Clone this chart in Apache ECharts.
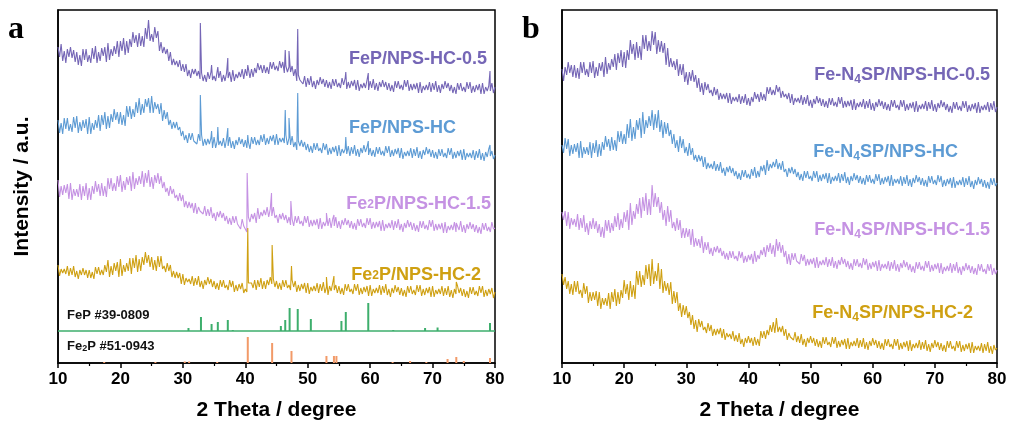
<!DOCTYPE html>
<html>
<head>
<meta charset="utf-8">
<script src="https://cdn.jsdelivr.net/npm/echarts@6/dist/echarts.min.js"></script>
<style>
html,body{margin:0;padding:0;background:#fff;}
#chart{width:1011px;height:433px;}
</style>
</head>
<body>
<div id="chart"></div>
<script>
// 2θ grid: start and step of the recorded patterns (degrees)
const thetaStart = 10;
const thetaStep = 0.25;

// ---------- Panel a : intensity values (stacked, a.u.) ----------
const aFeP05 = [
316,306,319,302, 312,300,314,306, 316,305,313,301, 311,298,308,297, 314,303,314,301,
308,300,315,304, 317,300,311,302, 315,307,316,301, 320,303,314,307, 317,309,322,306,
322,312,325,308, 322,310,324,316, 331,320,328,316, 330,317,327,316, 335,324,343,322,
329,321,336,325, 332,312,321,310, 316,309,314,302, 311,298,304,298, 302,296,303,292,
299,291,299,287, 293,285,294,289, 294,287,292,284, 290,282,288,281, 291,284,291,283,
287,282,292,285, 292,281,288,282, 290,285,291,281, 293,282,289,285, 291,286,294,284,
294,287,296,285, 294,286,295,290, 300,293,298,290, 298,290,296,289, 301,294,301,293,
297,292,302,295, 301,290,297,291, 296,291,297,287, 294,282,288,283, 285,279,287,276,
285,278,287,276, 282,274,283,278, 286,279,284,276, 283,275,281,274, 284,277,284,276,
280,275,285,278, 285,274,281,275, 282,277,283,273, 283,272,279,275, 280,275,283,273,
282,275,284,273, 280,272,281,276, 283,276,281,273, 280,272,278,271, 282,275,282,274,
278,273,283,276, 283,272,279,273, 279,274,280,270, 281,270,277,273, 278,273,281,271,
280,273,282,271, 278,270,279,274, 282,275,280,272, 278,270,276,269, 280,273,280,272,
276,271,281,274, 281,270,277,271, 278,273,279,269, 280,269,276,272, 277,272,280,270,
276];
const aFeP05Peaks = [[32.8,340],[34.6,298],[35.6,296],[37.2,305],[40.4,298],[46.4,313],[47.0,312],[48.4,334],[56.1,291],[59.7,290],[79.2,292]];

const aFeP = [
243,230,240,229, 245,234,245,232, 239,231,246,235, 247,230,241,232, 243,235,244,229,
246,229,240,233, 243,235,248,232, 248,238,251,234, 247,235,249,241, 254,243,251,239,
251,238,248,237, 257,246,257,244, 254,246,261,250, 265,248,259,250, 264,256,265,250,
267,250,261,254, 259,249,260,242, 253,244,251,238, 243,234,241,235, 241,233,236,227,
232,223,228,220, 230,223,230,222, 224,219,229,222, 228,217,224,218, 224,219,225,215,
226,215,222,218, 222,217,225,215, 224,217,226,215, 222,214,223,218, 226,219,224,216,
223,215,221,214, 226,219,226,218, 223,218,228,221, 229,218,225,219, 227,222,228,218,
229,218,225,221, 225,220,228,218, 225,218,227,216, 221,213,222,217, 223,216,221,213,
219,211,217,210, 220,213,220,212, 215,210,220,213, 219,208,215,209, 216,211,217,207,
218,207,214,210, 214,209,217,207, 216,209,218,207, 214,206,215,210, 218,211,216,208,
215,207,213,206, 216,209,216,208, 212,207,217,210, 217,206,213,207, 214,209,215,205,
215,204,211,207, 212,207,215,205, 214,207,216,205, 212,204,213,208, 216,209,214,206,
213,205,211,204, 214,207,214,206, 210,205,215,208, 215,204,211,205, 212,207,213,203,
214,203,210,206, 210,205,213,203, 212,205,214,203, 210,202,211,206, 214,207,212,204,
208];
const aFePPeaks = [[32.8,268],[34.6,232],[35.6,236],[37.2,235],[40.4,228],[46.4,253],[47.0,245],[48.4,270],[56.1,226],[59.7,222],[79.2,218]];

const aFe2P15 = [
183,166,177,168, 178,170,179,164, 180,163,174,167, 174,166,179,163, 177,167,180,163,
175,163,177,169, 182,171,179,167, 180,167,177,166, 185,174,185,172, 180,172,187,176,
188,171,182,173, 186,178,187,172, 191,174,185,178, 187,179,192,176, 190,180,193,176,
186,174,188,180, 190,179,187,175, 181,171,175,167, 177,169,174,165, 168,162,170,162,
168,156,162,155, 161,155,160,150, 160,149,156,152, 154,149,157,147, 154,147,156,145,
150,142,151,146, 152,145,150,142, 147,139,145,138, 147,140,147,139, 139,134,144,137,
134,131,146,141, 149,144,150,140, 155,144,151,147, 153,148,156,146, 154,147,156,145,
148,140,149,144, 150,143,148,140, 146,138,144,137, 147,140,147,139, 142,137,147,140,
147,136,143,137, 143,138,144,134, 145,134,141,137, 142,137,145,135, 144,137,146,135,
142,134,143,138, 145,138,143,135, 142,134,140,133, 144,137,144,136, 140,135,145,138,
145,134,141,135, 141,136,142,132, 143,132,139,135, 140,135,143,133, 142,135,144,133,
139,131,140,135, 143,136,141,133, 140,132,138,131, 142,135,142,134, 138,133,143,136,
143,132,139,133, 139,134,140,130, 141,130,137,133, 138,133,141,131, 140,133,142,131,
138,130,139,134, 141,134,139,131, 138,130,136,129, 140,133,140,132, 136,131,141,134,
135];
const aFe2P15Peaks = [[40.3,190],[44.2,170],[47.3,162],[53.0,150],[54.2,148],[73.8,140]];

const aFe2P2 = [
98,87,94,90, 94,89,97,87, 95,88,97,86, 92,84,93,88, 95,88,93,85,
93,85,91,84, 96,89,96,88, 93,88,98,91, 103,86,97,88, 100,92,101,86,
104,87,98,91, 100,92,105,89, 105,95,108,91, 104,92,106,98, 111,100,108,96,
106,93,103,92, 107,96,107,94, 97,91,100,92, 98,86,92,85, 91,85,90,79,
89,78,85,81, 84,79,87,77, 85,78,87,76, 82,74,83,78, 86,79,84,76,
82,74,80,73, 83,76,83,75, 78,73,83,76, 82,71,78,72, 79,74,80,70,
74,71,80,78, 80,75,83,73, 83,76,85,74, 82,74,83,78, 86,79,84,76,
82,74,80,73, 83,76,83,75, 78,73,83,76, 82,71,78,72, 79,74,80,70,
80,69,76,72, 77,72,80,70, 79,72,81,70, 76,68,77,72, 80,73,78,70,
77,69,75,68, 79,72,79,71, 74,69,79,72, 79,68,75,69, 76,71,77,67,
78,67,74,70, 75,70,78,68, 77,70,79,68, 74,66,75,70, 78,71,76,68,
75,67,73,66, 77,70,77,69, 73,68,78,71, 78,67,74,68, 75,70,76,66,
77,66,73,69, 74,69,77,67, 75,68,77,66, 73,65,74,69, 77,70,75,67,
74,66,72,65, 76,69,76,68, 72,67,77,70, 77,66,73,67, 74,69,75,65,
71];
const aFe2P2Peaks = [[40.4,135],[44.3,118],[47.4,97],[53.0,86],[54.2,87],[73.8,81]];

// reference patterns: [2θ, relative intensity]
const refFeP = [[30.9,3],[32.9,14],[34.6,7],[35.6,9],[37.2,11],[38.0,1],[45.7,5],[46.4,11],[47.1,23],[48.4,22],[50.5,12],[55.4,10],[56.1,19],[59.7,28],[63.7,1],[68.8,3],[70.8,3.5],[79.2,8]];
const refFe2P = [[17.4,1],[25.6,1],[30.3,1.5],[31.0,1.5],[35.5,1],[40.4,26],[44.3,20],[47.4,12],[53.0,7],[54.2,7],[54.6,7],[63.6,1],[66.4,2],[69.0,1],[72.4,4],[73.8,6],[75.0,2],[79.2,5]];
const refFePOffset = 32;
const refFe2POffset = 0;

// ---------- Panel b ----------
const bN4SP05 = [
294,282,296,288, 301,290,298,286, 298,285,295,284, 301,290,301,288, 294,286,301,290,
302,285,296,287, 300,292,301,286, 306,289,300,293, 304,296,309,293, 310,300,313,296,
311,295,313,303, 323,309,319,303, 321,305,317,303, 328,314,328,312, 322,312,332,318,
331,309,323,311, 322,310,320,298, 315,296,305,296, 302,293,304,287, 299,288,299,281,
291,278,291,282, 293,281,288,275, 285,271,280,268, 281,273,279,270, 273,267,276,268,
274,263,270,264, 269,264,270,260, 270,259,266,262, 266,261,269,259, 267,260,269,258,
265,257,266,261, 271,264,269,261, 271,263,269,262, 276,269,276,268, 273,268,278,271,
276,265,272,266, 269,264,270,260, 269,258,265,261, 265,260,268,258, 266,259,268,257,
263,255,264,259, 267,260,265,257, 264,256,262,255, 265,258,265,257, 261,256,266,259,
266,255,262,256, 262,257,263,253, 264,253,260,256, 261,256,264,254, 262,255,264,253,
260,252,261,256, 264,257,262,254, 261,253,259,252, 263,256,263,255, 258,253,263,256,
263,252,259,253, 260,255,261,251, 262,251,258,254, 259,254,262,252, 261,254,263,252,
259,251,260,255, 263,256,261,253, 259,251,257,250, 261,254,261,253, 257,252,262,255,
262,251,258,252, 259,254,260,250, 261,250,257,253, 258,253,261,251, 260,253,262,251,
256];

const bN4SP = [
218,210,225,214, 224,207,218,209, 219,211,220,205, 222,205,216,209, 216,208,221,205,
220,210,223,206, 219,207,221,213, 227,216,224,212, 226,213,223,212, 232,221,232,219,
229,219,239,225, 244,222,236,224, 243,233,245,225, 251,229,243,235, 247,237,253,233,
249,235,253,231, 243,225,241,229, 240,227,233,219, 229,215,223,211, 227,215,224,210,
216,207,220,208, 215,203,208,201, 208,202,207,196, 206,194,200,195, 199,194,202,192,
199,192,201,190, 195,187,196,191, 197,190,195,187, 192,184,190,183, 193,186,193,185,
189,184,194,187, 196,185,192,186, 197,192,198,188, 203,192,199,195, 201,196,204,194,
200,193,202,191, 194,186,195,190, 196,189,194,186, 191,183,189,182, 192,185,192,184,
187,182,192,185, 192,181,188,182, 189,184,190,180, 190,179,186,182, 187,182,190,180,
189,182,191,180, 186,178,187,182, 190,183,188,180, 187,179,185,178, 188,181,188,180,
184,179,189,182, 189,178,185,179, 186,181,187,177, 188,177,184,180, 184,179,187,177,
186,179,188,177, 184,176,185,180, 188,181,186,178, 185,177,183,176, 187,180,187,179,
183,178,188,181, 187,176,183,177, 184,179,185,175, 186,175,182,178, 183,178,186,176,
185,178,187,176, 182,174,183,178, 186,179,184,176, 183,175,181,174, 185,178,185,177,
180];

const bN4SP15 = [
151,143,152,137, 151,134,145,138, 144,136,149,133, 145,135,148,131, 140,128,142,134,
145,134,142,130, 139,126,136,125, 143,132,143,130, 140,132,147,136, 150,133,144,135,
151,141,153,133, 160,138,152,144, 159,149,165,145, 166,152,170,148, 164,148,178,156,
170,156,166,150, 161,143,153,137, 157,141,153,135, 141,132,145,133, 143,125,135,125,
135,126,134,118, 134,116,125,117, 124,115,127,110, 121,113,121,109, 115,107,116,111,
117,110,115,107, 112,104,110,103, 112,105,112,104, 107,102,112,105, 111,100,107,101,
108,103,109,99, 112,101,108,104, 113,108,116,106, 118,111,120,109, 118,106,124,112,
121,110,118,106, 112,99,109,98, 110,103,110,102, 104,99,109,102, 108,97,104,98,
104,99,105,95, 106,95,102,98, 103,98,106,96, 104,97,106,95, 102,94,103,98,
106,99,104,96, 102,94,100,93, 104,97,104,96, 100,95,105,98, 104,93,100,94,
101,96,102,92, 103,92,99,95, 99,94,102,92, 101,94,103,92, 99,91,100,95,
103,96,101,93, 99,91,97,90, 101,94,101,93, 97,92,102,95, 102,91,98,92,
99,94,100,90, 100,89,96,92, 97,92,100,90, 99,92,101,90, 96,88,97,92,
100,93,98,90, 97,89,95,88, 99,92,99,91, 94,89,99,92, 99,88,95,89,
93];

const bN4SP2 = [
89,78,86,74, 82,69,79,68, 82,71,82,69, 73,65,80,69, 77,60,71,62,
71,63,72,57, 71,54,65,58, 65,57,70,54, 71,61,74,57, 71,59,73,65,
83,69,79,63, 82,66,78,64, 92,78,92,76, 88,78,98,84, 99,77,104,79,
92,82,100,74, 94,70,82,72, 80,68,81,59, 72,60,71,52, 60,46,58,48,
57,45,51,38, 48,34,43,31, 44,36,42,33, 36,30,40,32, 38,27,34,28,
34,29,35,25, 34,23,30,26, 29,24,32,22, 28,21,30,19, 24,16,25,20,
27,20,25,17, 26,18,24,17, 32,25,32,24, 33,28,38,31, 41,30,45,31,
36,31,37,27, 34,23,30,26, 28,23,31,21, 27,20,29,18, 24,16,25,20,
27,20,25,17, 24,16,22,15, 26,19,26,18, 21,16,26,19, 26,15,22,16,
23,18,24,14, 25,14,21,17, 22,17,25,15, 23,16,25,14, 21,13,22,17,
25,18,23,15, 22,14,20,13, 24,17,24,16, 19,14,24,17, 24,13,20,14,
21,16,22,12, 23,12,19,15, 20,15,23,13, 21,14,23,12, 19,11,20,15,
23,16,21,13, 20,12,18,11, 22,15,22,14, 17,12,22,15, 22,11,18,12,
19,14,20,10, 21,10,17,13, 17,12,20,10, 19,12,21,10, 17,9,18,13,
15];

const seriesNamesA = ['FeP/NPS-HC-0.5','FeP/NPS-HC','Fe2P/NPS-HC-1.5','Fe2P/NPS-HC-2'];
const seriesNamesB = ['Fe-N4SP/NPS-HC-0.5','Fe-N4SP/NPS-HC','Fe-N4SP/NPS-HC-1.5','Fe-N4SP/NPS-HC-2'];

// ---------- build ----------
const C = {purple:'#7566b6', blue:'#5d9bd4', pink:'#c592e3', gold:'#cfa012', green:'#3dae6c', orange:'#f29a68'};
const FONT = '"Liberation Sans", Arial, sans-serif';

function pattern(vals, peaks) {
  const pts = vals.map((v, i) => [thetaStart + thetaStep * i, v]);
  (peaks || []).forEach(p => pts.push([p[0], p[1]]));
  pts.sort((a, b) => a[0] - b[0]);
  return pts;
}
function lineSeries(name, data, color, idx) {
  return {name, type:'line', xAxisIndex:idx, yAxisIndex:idx, data, showSymbol:false, symbol:'none',
    lineStyle:{color, width:1.1}, itemStyle:{color}, animation:false, z:3};
}
function sticks(name, data, base, color) {
  return {name, type:'custom', xAxisIndex:0, yAxisIndex:0, animation:false, z:4,
    data: data.map(d => [d[0], d[1], base]),
    renderItem: function(params, api) {
      const x = api.value(0), h = api.value(1), b = api.value(2);
      const p1 = api.coord([x, b]);
      const p2 = api.coord([x, b + h]);
      return {type:'line', shape:{x1:p1[0], y1:p1[1], x2:p2[0], y2:p2[1]},
        style:{stroke:color, lineWidth:2}};
    }};
}

const xAxisCommon = {
  type:'value', min:10, max:80, interval:10,
  axisLine:{show:true, onZero:false, lineStyle:{color:'#000', width:1.5}},
  axisTick:{show:true, length:5, lineStyle:{color:'#000', width:1.5}},
  minorTick:{show:true, splitNumber:2, length:3, lineStyle:{color:'#000', width:1.2}},
  splitLine:{show:false},
  axisLabel:{color:'#000', fontSize:17, fontWeight:'bold', fontFamily:FONT, margin:8},
  name:'2 Theta / degree', nameLocation:'middle', nameGap:37,
  nameTextStyle:{color:'#000', fontSize:21, fontWeight:'bold', fontFamily:FONT}
};
const yAxisCommon = {
  type:'value', min:0, max:353,
  axisLine:{show:true, lineStyle:{color:'#000', width:1.5}},
  axisTick:{show:false}, axisLabel:{show:false}, splitLine:{show:false}
};

const textStyle = (size, color) => ({fontSize:size, fontWeight:'bold', fontFamily:FONT, fill:color});
function label(x, y, text, color, rich, size, align) {
  const s = size || 18;
  const style = Object.assign({text, textAlign:align || 'right', textVerticalAlign:'middle'}, textStyle(s, color));
  if (rich) style.rich = rich;
  return {type:'text', x, y, z:10, style};
}
const subA = {s:{fontSize:12, fontWeight:'bold', fontFamily:FONT, verticalAlign:'bottom', padding:[0,0,2,0]}};
const subB = {s:{fontSize:12, fontWeight:'bold', fontFamily:FONT, verticalAlign:'bottom', padding:[0,0,-2,0]}};
const subRef = {s:{fontSize:9, fontWeight:'bold', fontFamily:FONT, verticalAlign:'bottom', padding:[6,0,0,0]}};
const serif = '"Liberation Serif", "Times New Roman", serif';

const option = {
  backgroundColor:'#fff',
  animation:false,
  grid:[
    {left:58, right:516, top:10, bottom:70, show:true, borderColor:'#000', borderWidth:1.5, backgroundColor:'transparent'},
    {left:562, right:14, top:10, bottom:70, show:true, borderColor:'#000', borderWidth:1.5, backgroundColor:'transparent'}
  ],
  xAxis:[
    Object.assign({gridIndex:0}, xAxisCommon),
    Object.assign({gridIndex:1}, xAxisCommon)
  ],
  yAxis:[
    Object.assign({gridIndex:0, name:'Intensity / a.u.', nameLocation:'middle', nameGap:25,
      nameTextStyle:{color:'#000', fontSize:21, fontWeight:'bold', fontFamily:FONT}}, yAxisCommon),
    Object.assign({gridIndex:1}, yAxisCommon)
  ],
  series:[
    lineSeries(seriesNamesA[0], pattern(aFeP05, aFeP05Peaks), C.purple, 0),
    lineSeries(seriesNamesA[1], pattern(aFeP, aFePPeaks), C.blue, 0),
    lineSeries(seriesNamesA[2], pattern(aFe2P15, aFe2P15Peaks), C.pink, 0),
    lineSeries(seriesNamesA[3], pattern(aFe2P2, aFe2P2Peaks), C.gold, 0),
    {name:'FeP baseline', type:'line', xAxisIndex:0, yAxisIndex:0, showSymbol:false, symbol:'none', animation:false,
      data:[[10, refFePOffset],[80, refFePOffset]], lineStyle:{color:C.green, width:1.5}},
    sticks('FeP #39-0809', refFeP, refFePOffset, C.green),
    sticks('Fe2P #51-0943', refFe2P, refFe2POffset, C.orange),
    lineSeries(seriesNamesB[0], pattern(bN4SP05), C.purple, 1),
    lineSeries(seriesNamesB[1], pattern(bN4SP), C.blue, 1),
    lineSeries(seriesNamesB[2], pattern(bN4SP15), C.pink, 1),
    lineSeries(seriesNamesB[3], pattern(bN4SP2), C.gold, 1)
  ],
  graphic:[
    {type:'text', x:8, y:30, style:{text:'a', fontSize:32, fontWeight:'bold', fontFamily:serif, fill:'#000', textVerticalAlign:'middle'}},
    {type:'text', x:522, y:30, style:{text:'b', fontSize:32, fontWeight:'bold', fontFamily:serif, fill:'#000', textVerticalAlign:'middle'}},
    label(487, 59, 'FeP/NPS-HC-0.5', C.purple),
    label(456, 128, 'FeP/NPS-HC', C.blue),
    label(491, 204, 'Fe{s|2}P/NPS-HC-1.5', C.pink, subA),
    label(481, 275, 'Fe{s|2}P/NPS-HC-2', C.gold, subA),
    label(67, 315, 'FeP #39-0809', '#111', null, 13, 'left'),
    label(67, 346, 'Fe{s|2}P #51-0943', '#111', subRef, 13, 'left'),
    label(990, 75, 'Fe-N{s|4}SP/NPS-HC-0.5', C.purple, subB),
    label(958, 152, 'Fe-N{s|4}SP/NPS-HC', C.blue, subB),
    label(990, 230, 'Fe-N{s|4}SP/NPS-HC-1.5', C.pink, subB),
    label(973, 313, 'Fe-N{s|4}SP/NPS-HC-2', C.gold, subB)
  ]
};

const chart = echarts.init(document.getElementById('chart'), null, {renderer:'canvas'});
chart.setOption(option);
</script>
</body>
</html>
